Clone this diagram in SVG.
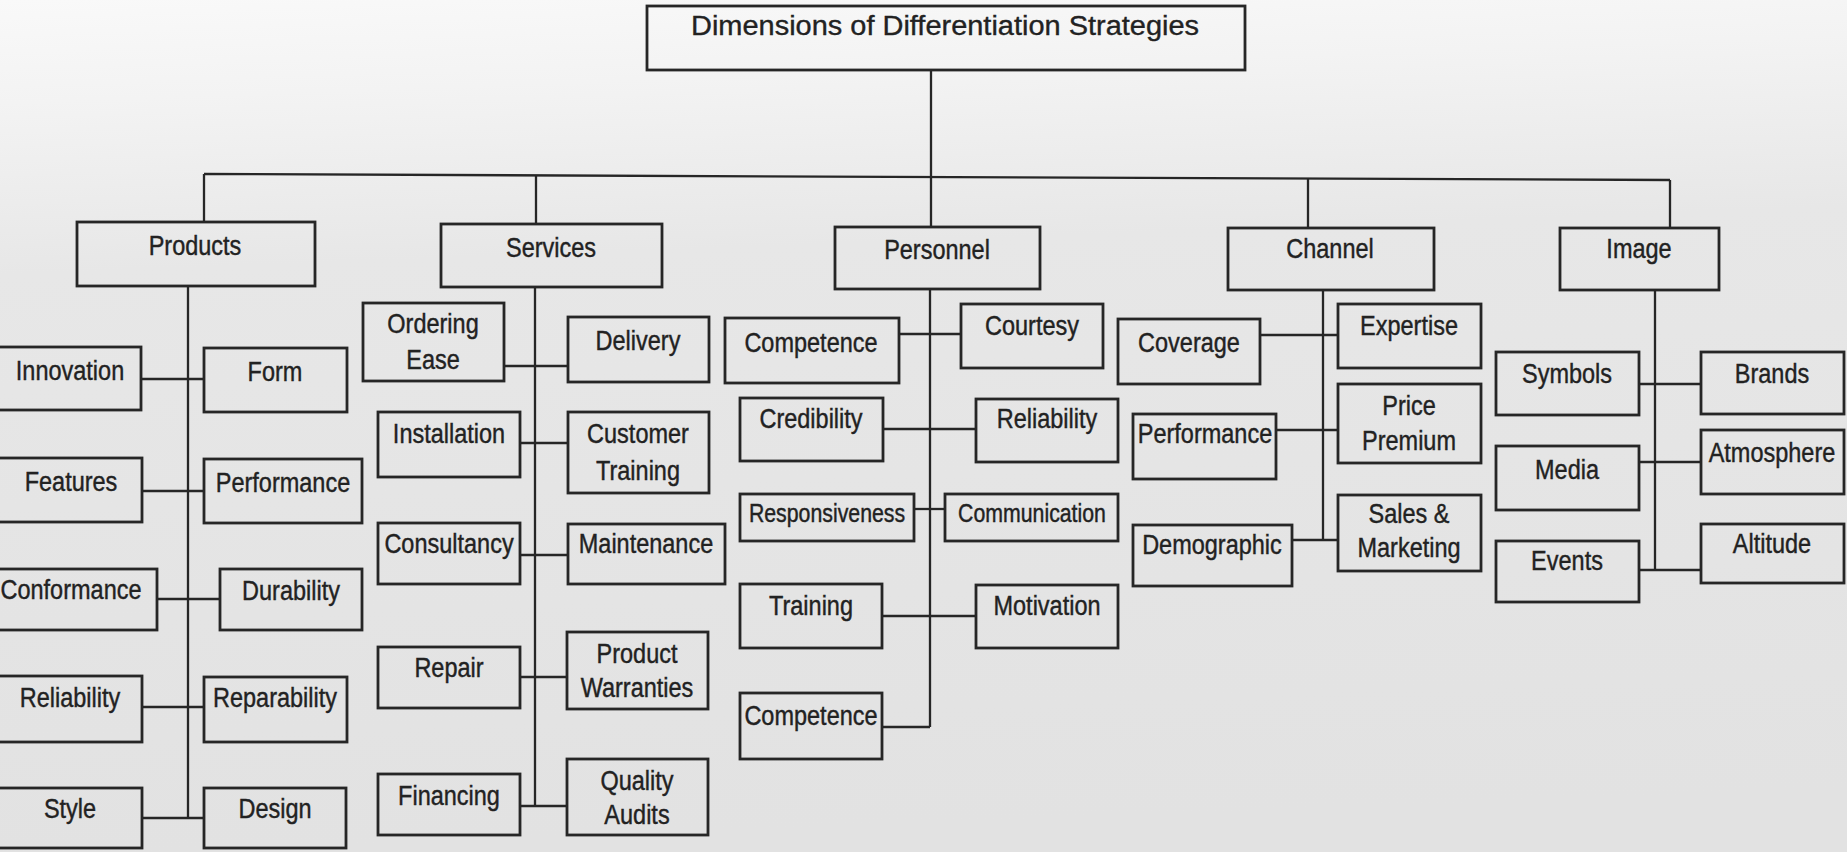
<svg xmlns="http://www.w3.org/2000/svg" width="1847" height="852" viewBox="0 0 1847 852">
  <defs>
    <linearGradient id="paper" x1="0" y1="0" x2="0.08" y2="1">
      <stop offset="0" stop-color="#f9f9f9"/>
      <stop offset="0.12" stop-color="#f3f3f3"/>
      <stop offset="0.32" stop-color="#e7e7e7"/>
      <stop offset="1" stop-color="#e2e2e2"/>
    </linearGradient>
    <style>
      .box { fill: none; stroke: #262626; stroke-width: 2.8; }
      .link { fill: none; stroke: #262626; stroke-width: 2.3; }
      .t { font-family: "Liberation Sans", Arial, Helvetica, sans-serif; font-size: 23.5px; fill: #222; stroke: #222; stroke-width: 0.35; text-anchor: middle; }
      .s { font-size: 21.3px; }
      .title { font-family: "Liberation Sans", Arial, Helvetica, sans-serif; font-size: 27px; fill: #222; stroke: #222; stroke-width: 0.35; text-anchor: middle; }
    </style>
  </defs>

  <!-- paper -->
  <rect x="0" y="0" width="1847" height="852" fill="url(#paper)"/>

  <!-- connectors -->
  <g id="connectors" class="link">
    <!-- root stem and top bus -->
    <line x1="931" y1="70" x2="931" y2="227"/>
    <line x1="204" y1="174" x2="1670" y2="180"/>
    <line x1="204" y1="174" x2="204" y2="222"/>
    <line x1="536" y1="175" x2="536" y2="224"/>
    <line x1="1308" y1="179" x2="1308" y2="228"/>
    <line x1="1670" y1="180" x2="1670" y2="228"/>

    <!-- Products branch -->
    <line x1="188" y1="286" x2="188" y2="818"/>
    <line x1="141" y1="379" x2="204" y2="379"/>
    <line x1="142" y1="491" x2="204" y2="491"/>
    <line x1="157" y1="599" x2="220" y2="599"/>
    <line x1="142" y1="707" x2="204" y2="707"/>
    <line x1="142" y1="818" x2="204" y2="818"/>

    <!-- Services branch -->
    <line x1="535" y1="287" x2="535" y2="806"/>
    <line x1="504" y1="366" x2="568" y2="366"/>
    <line x1="520" y1="443" x2="568" y2="443"/>
    <line x1="520" y1="555" x2="568" y2="555"/>
    <line x1="520" y1="677" x2="567" y2="677"/>
    <line x1="520" y1="806" x2="567" y2="806"/>

    <!-- Personnel branch -->
    <line x1="930" y1="289" x2="930" y2="727"/>
    <line x1="899" y1="334" x2="961" y2="334"/>
    <line x1="883" y1="429" x2="976" y2="429"/>
    <line x1="914" y1="509" x2="945" y2="509"/>
    <line x1="882" y1="616" x2="976" y2="616"/>
    <line x1="882" y1="727" x2="930" y2="727"/>

    <!-- Channel branch -->
    <line x1="1323" y1="290" x2="1323" y2="540"/>
    <line x1="1260" y1="335" x2="1338" y2="335"/>
    <line x1="1276" y1="430" x2="1338" y2="430"/>
    <line x1="1292" y1="540" x2="1338" y2="540"/>

    <!-- Image branch -->
    <line x1="1655" y1="290" x2="1655" y2="570"/>
    <line x1="1639" y1="384" x2="1701" y2="384"/>
    <line x1="1639" y1="462" x2="1701" y2="462"/>
    <line x1="1639" y1="570" x2="1701" y2="570"/>
  </g>

  <!-- root -->
  <g id="root">
    <rect class="box" x="647" y="6" width="598" height="64"/>
    <text class="title" x="945" y="35" textLength="508" lengthAdjust="spacingAndGlyphs">Dimensions of Differentiation Strategies</text>
  </g>

  <!-- first level -->
  <g id="products">
    <rect class="box" x="77" y="222" width="238" height="64"/>
    <text class="t" transform="translate(195,255) scale(1,1.18)">Products</text>
  </g>
  <g id="services">
    <rect class="box" x="441" y="224" width="221" height="63"/>
    <text class="t" transform="translate(551,257) scale(1,1.18)">Services</text>
  </g>
  <g id="personnel">
    <rect class="box" x="835" y="227" width="205" height="62"/>
    <text class="t" transform="translate(937,259) scale(1,1.18)">Personnel</text>
  </g>
  <g id="channel">
    <rect class="box" x="1228" y="228" width="206" height="62"/>
    <text class="t" transform="translate(1330,258) scale(1,1.18)">Channel</text>
  </g>
  <g id="image">
    <rect class="box" x="1560" y="228" width="159" height="62"/>
    <text class="t" transform="translate(1639,258) scale(1,1.18)">Image</text>
  </g>

  <!-- Products children -->
  <g id="innovation">
    <rect class="box" x="-2" y="347" width="143" height="63"/>
    <text class="t" transform="translate(70,380) scale(1,1.18)">Innovation</text>
  </g>
  <g id="form">
    <rect class="box" x="204" y="348" width="143" height="64"/>
    <text class="t" transform="translate(275,381) scale(1,1.18)">Form</text>
  </g>
  <g id="features">
    <rect class="box" x="-2" y="458" width="144" height="64"/>
    <text class="t" transform="translate(71,491) scale(1,1.18)">Features</text>
  </g>
  <g id="performance-p">
    <rect class="box" x="204" y="459" width="158" height="64"/>
    <text class="t" transform="translate(283,492) scale(1,1.18)">Performance</text>
  </g>
  <g id="conformance">
    <rect class="box" x="-2" y="569" width="159" height="61"/>
    <text class="t" transform="translate(71,599) scale(1,1.18)">Conformance</text>
  </g>
  <g id="durability">
    <rect class="box" x="220" y="569" width="142" height="61"/>
    <text class="t" transform="translate(291,600) scale(1,1.18)">Durability</text>
  </g>
  <g id="reliability-p">
    <rect class="box" x="-2" y="676" width="144" height="66"/>
    <text class="t" transform="translate(70,707) scale(1,1.18)">Reliability</text>
  </g>
  <g id="reparability">
    <rect class="box" x="204" y="677" width="143" height="65"/>
    <text class="t" transform="translate(275,707) scale(1,1.18)">Reparability</text>
  </g>
  <g id="style">
    <rect class="box" x="-2" y="788" width="144" height="60"/>
    <text class="t" transform="translate(70,818) scale(1,1.18)">Style</text>
  </g>
  <g id="design">
    <rect class="box" x="204" y="788" width="142" height="60"/>
    <text class="t" transform="translate(275,818) scale(1,1.18)">Design</text>
  </g>

  <!-- Services children -->
  <g id="ordering-ease">
    <rect class="box" x="363" y="303" width="141" height="78"/>
    <text class="t" transform="translate(433,333) scale(1,1.18)"><tspan x="0" y="0">Ordering</tspan><tspan x="0" y="30.5">Ease</tspan></text>
  </g>
  <g id="delivery">
    <rect class="box" x="568" y="317" width="141" height="65"/>
    <text class="t" transform="translate(638,350) scale(1,1.18)">Delivery</text>
  </g>
  <g id="installation">
    <rect class="box" x="378" y="412" width="142" height="65"/>
    <text class="t" transform="translate(449,443) scale(1,1.18)">Installation</text>
  </g>
  <g id="customer-training">
    <rect class="box" x="568" y="412" width="141" height="81"/>
    <text class="t" transform="translate(638,443) scale(1,1.18)"><tspan x="0" y="0">Customer</tspan><tspan x="0" y="31.4">Training</tspan></text>
  </g>
  <g id="consultancy">
    <rect class="box" x="378" y="523" width="142" height="61"/>
    <text class="t" transform="translate(449,553) scale(1,1.18)">Consultancy</text>
  </g>
  <g id="maintenance">
    <rect class="box" x="568" y="524" width="157" height="60"/>
    <text class="t" transform="translate(646,553) scale(1,1.18)">Maintenance</text>
  </g>
  <g id="repair">
    <rect class="box" x="378" y="647" width="142" height="61"/>
    <text class="t" transform="translate(449,677) scale(1,1.18)">Repair</text>
  </g>
  <g id="product-warranties">
    <rect class="box" x="567" y="632" width="141" height="77"/>
    <text class="t" transform="translate(637,663) scale(1,1.18)"><tspan x="0" y="0">Product</tspan><tspan x="0" y="28.8">Warranties</tspan></text>
  </g>
  <g id="financing">
    <rect class="box" x="378" y="774" width="142" height="61"/>
    <text class="t" transform="translate(449,805) scale(1,1.18)">Financing</text>
  </g>
  <g id="quality-audits">
    <rect class="box" x="567" y="759" width="141" height="76"/>
    <text class="t" transform="translate(637,790) scale(1,1.18)"><tspan x="0" y="0">Quality</tspan><tspan x="0" y="28.8">Audits</tspan></text>
  </g>

  <!-- Personnel children -->
  <g id="competence-1">
    <rect class="box" x="725" y="318" width="174" height="65"/>
    <text class="t" transform="translate(811,352) scale(1,1.18)">Competence</text>
  </g>
  <g id="courtesy">
    <rect class="box" x="961" y="304" width="142" height="64"/>
    <text class="t" transform="translate(1032,335) scale(1,1.18)">Courtesy</text>
  </g>
  <g id="credibility">
    <rect class="box" x="740" y="398" width="143" height="63"/>
    <text class="t" transform="translate(811,428) scale(1,1.18)">Credibility</text>
  </g>
  <g id="reliability-s">
    <rect class="box" x="976" y="399" width="142" height="63"/>
    <text class="t" transform="translate(1047,428) scale(1,1.18)">Reliability</text>
  </g>
  <g id="responsiveness">
    <rect class="box" x="740" y="494" width="174" height="47"/>
    <text class="t s" transform="translate(827,522) scale(1,1.18)">Responsiveness</text>
  </g>
  <g id="communication">
    <rect class="box" x="945" y="494" width="173" height="47"/>
    <text class="t s" transform="translate(1032,522) scale(1,1.18)">Communication</text>
  </g>
  <g id="training">
    <rect class="box" x="740" y="584" width="142" height="64"/>
    <text class="t" transform="translate(811,615) scale(1,1.18)">Training</text>
  </g>
  <g id="motivation">
    <rect class="box" x="976" y="585" width="142" height="63"/>
    <text class="t" transform="translate(1047,615) scale(1,1.18)">Motivation</text>
  </g>
  <g id="competence-2">
    <rect class="box" x="740" y="693" width="142" height="66"/>
    <text class="t" transform="translate(811,725) scale(1,1.18)">Competence</text>
  </g>

  <!-- Channel children -->
  <g id="coverage">
    <rect class="box" x="1118" y="319" width="142" height="65"/>
    <text class="t" transform="translate(1189,352) scale(1,1.18)">Coverage</text>
  </g>
  <g id="expertise">
    <rect class="box" x="1338" y="304" width="143" height="64"/>
    <text class="t" transform="translate(1409,335) scale(1,1.18)">Expertise</text>
  </g>
  <g id="performance-c">
    <rect class="box" x="1133" y="414" width="143" height="65"/>
    <text class="t" transform="translate(1205,443) scale(1,1.18)">Performance</text>
  </g>
  <g id="price-premium">
    <rect class="box" x="1338" y="384" width="143" height="79"/>
    <text class="t" transform="translate(1409,415) scale(1,1.18)"><tspan x="0" y="0">Price</tspan><tspan x="0" y="29.7">Premium</tspan></text>
  </g>
  <g id="demographic">
    <rect class="box" x="1133" y="525" width="159" height="61"/>
    <text class="t" transform="translate(1212,554) scale(1,1.18)">Demographic</text>
  </g>
  <g id="sales-marketing">
    <rect class="box" x="1338" y="495" width="143" height="76"/>
    <text class="t" transform="translate(1409,523) scale(1,1.18)"><tspan x="0" y="0">Sales &amp;</tspan><tspan x="0" y="28.8">Marketing</tspan></text>
  </g>

  <!-- Image children -->
  <g id="symbols">
    <rect class="box" x="1496" y="352" width="143" height="63"/>
    <text class="t" transform="translate(1567,383) scale(1,1.18)">Symbols</text>
  </g>
  <g id="brands">
    <rect class="box" x="1701" y="352" width="143" height="62"/>
    <text class="t" transform="translate(1772,383) scale(1,1.18)">Brands</text>
  </g>
  <g id="media">
    <rect class="box" x="1496" y="446" width="143" height="64"/>
    <text class="t" transform="translate(1567,479) scale(1,1.18)">Media</text>
  </g>
  <g id="atmosphere">
    <rect class="box" x="1701" y="430" width="143" height="64"/>
    <text class="t" transform="translate(1772,462) scale(1,1.18)">Atmosphere</text>
  </g>
  <g id="events">
    <rect class="box" x="1496" y="541" width="143" height="61"/>
    <text class="t" transform="translate(1567,570) scale(1,1.18)">Events</text>
  </g>
  <g id="altitude">
    <rect class="box" x="1701" y="524" width="143" height="59"/>
    <text class="t" transform="translate(1772,553) scale(1,1.18)">Altitude</text>
  </g>
</svg>
